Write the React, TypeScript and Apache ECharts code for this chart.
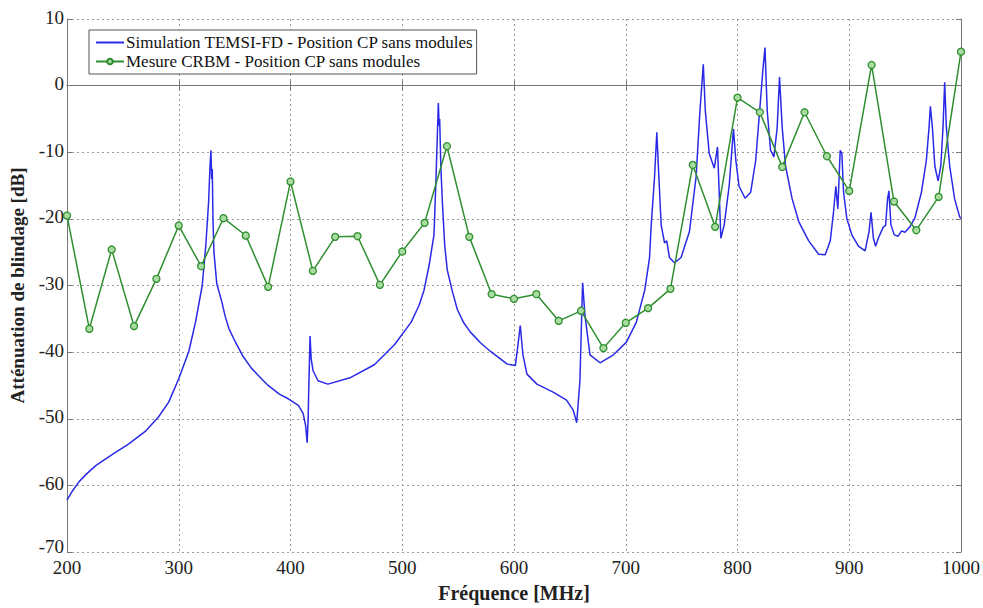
import React, { useEffect, useRef } from "react";
import * as echarts from "echarts";

// Simulation TEMSI-FD (frequency MHz, attenuation dB)
const simFreq = [
  200, 205, 211, 218, 226, 241, 255, 270, 282, 291, 300, 309, 315, 321, 324.3, 326.7, 328, 328.8, 329.5, 330,
  330.6, 331.5, 334, 338.6, 341.5, 345, 350.4, 357, 365, 374, 380, 390, 398, 407, 411.3, 413.5, 414.9, 415.8, 416.3,
  417.5, 418.5, 420.2, 424.6, 433.5, 454, 475, 493, 508, 515, 519.5, 524, 528.4, 530, 531.3, 532.3, 533, 533.5,
  534.5, 535.9, 538, 540.3, 545, 549.3, 555, 561, 570, 579, 594, 601.2, 603.2, 605.6, 608, 611.6, 620.5, 635, 647, 653, 656.1,
  659, 660.5, 661.4, 663.5, 668, 677, 689, 700.6, 709.5, 717, 721.3, 722.8, 725.8, 727.8, 729.6, 731.7, 734.7,
  736.7, 739.1, 743.6, 749.5, 757, 763, 766.4, 769.4, 771.2, 774.7, 779.2, 782.1, 783.6, 785.1, 788.1, 792.5,
  796.4, 798.5, 801.4, 806.8, 811.8, 816.3, 819.8, 822.8, 824.6, 826.6, 829.6, 832.6, 835.5, 837.6, 840, 843,
  848.9, 854.8, 863.7, 872.6, 878.5, 883, 885.9, 888, 889.8, 891.9, 893.4, 894.9, 897.8, 902.3, 908.2, 914.2,
  917.7, 919.5, 921.6, 923.6, 926, 930.5, 932.5, 934.3, 935.5, 937.3, 940.3, 943.8, 946.8, 949.8, 954.2, 958.7,
  964.6, 969, 971.4, 972.6, 974.4, 976.6, 979.5, 981.9, 983.9, 985.4, 986.9, 989.9, 994.3, 998.8, 1000,
];
const simValue = [
  -62.2, -60.8, -59.4, -58.2, -57.0, -55.3, -53.8, -51.9, -49.7, -47.5, -44.0, -39.9, -35.5, -30.0, -23.8, -17.5, -12, -9.7, -14, -12.5,
  -20, -25, -29.7, -32.5, -34.6, -36.5, -38.4, -40.5, -42.4, -44.0, -45.0, -46.3, -47.0, -48.0, -49.2, -51, -53.6, -50, -45.8,
  -37.6, -41, -42.8, -44.3, -44.8, -43.8, -41.9, -38.9, -35.5, -33, -30.7, -27, -22.4, -15, -8, -2.6, -6, -5,
  -12, -17.5, -24, -27.7, -31, -33.6, -35.6, -37, -38.6, -39.9, -41.8, -42.0, -39.4, -36.0, -40.4, -43.3, -44.8, -46.0, -47.2, -48.7, -50.6,
  -44.3, -35, -29.6, -34.5, -40.4, -41.6, -40.4, -38.5, -35.5, -30.7, -25.8, -20.9, -13.6, -7.0, -13.6, -20.9, -23.6,
  -23.3, -25.8, -26.6, -25.8, -21.9, -13.6, -3.8, 3.2, -3.8, -10.2, -12.4, -9.2, -16, -22.9, -20.9, -15.1,
  -6.5, -11.2, -15.1, -16.9, -16.0, -11.2, -3.8, 2.5, 5.7, -3.8, -9.7, -10.7, -6.3, 1.3, -6.3, -12.1,
  -17, -20.4, -23.3, -25.3, -25.4, -23.3, -19, -15.1, -18.5, -9.7, -10.2, -16, -19.9, -22.4, -24.1, -24.8,
  -21.9, -19.0, -22.9, -24.1, -22.9, -21.2, -21.0, -17, -15.8, -20.9, -22.4, -22.6, -21.8, -22, -21.2, -19.9,
  -16, -11.2, -6.3, -3.1, -6.3, -12.1, -14.3, -12.1, -6.3, 0.5, -6.3, -12.1, -17, -19.7, -19.9,
];

// Mesure CRBM
const mesFreq = [
  200, 220, 240, 260, 280, 300, 320, 340, 360, 380, 400, 420, 440, 460, 480, 500, 520, 540, 560, 580, 600,
  620, 640, 660, 680, 700, 720, 740, 760, 780, 800, 820, 840, 860, 880, 900, 920, 940, 960, 980, 1000,
];
const mesValue = [
  -19.5, -36.5, -24.6, -36.1, -29.0, -21.0, -27.1, -19.9, -22.5, -30.2, -14.4, -27.8, -22.7, -22.6, -29.9, -24.9, -20.6, -9.1, -22.7, -31.3, -32.0,
  -31.3, -35.3, -33.8, -39.4, -35.6, -33.4, -30.5, -11.9, -21.2, -1.8, -4.0, -12.2, -4.0, -10.6, -15.8, 3.1, -17.4, -21.7, -16.7, 5.1,
];

const seriesNames = [
  "Simulation TEMSI-FD - Position CP sans modules",
  "Mesure CRBM - Position CP sans modules",
];
const xTitle = "Fréquence [MHz]";
const yTitle = "Atténuation de blindage [dB]";

const FONT = "'Liberation Serif', 'Times New Roman', serif";

export default function App() {
  const ref = useRef<HTMLDivElement>(null);
  useEffect(() => {
    if (!ref.current) return;
    const chart = echarts.init(ref.current, undefined, { renderer: "svg" });
    const simData = simFreq.map((f, i) => [f, simValue[i]]);
    const mesData = mesFreq.map((f, i) => [f, mesValue[i]]);
    const splitLine = { show: true, lineStyle: { color: "#9a9a9a", type: [2, 3] as any, width: 1 } };
    const axisLine = { show: true, lineStyle: { color: "#777", width: 1 } };
    const tickIn = { show: true, inside: true, length: 5, lineStyle: { color: "#777" } };
    chart.setOption({
      animation: false,
      backgroundColor: "#fff",
      grid: { left: 64, top: 19, width: 900, height: 546, show: false },
      legend: {
        orient: "vertical",
        left: 89,
        top: 30,
        itemWidth: 28,
        itemHeight: 7,
        itemGap: 2,
        padding: [4, 3, 4, 6],
        backgroundColor: "#fff",
        borderColor: "#555",
        borderWidth: 1,
        textStyle: { fontFamily: FONT, fontSize: 17, color: "#111", padding: [0, 0, 0, -3] },
        data: [
          { name: seriesNames[0], itemStyle: { opacity: 0 } },
          { name: seriesNames[1] },
        ],
      },
      xAxis: [
        {
          type: "value",
          min: 200,
          max: 1000,
          interval: 100,
          position: "bottom",
          name: xTitle,
          nameLocation: "middle",
          nameGap: 31,
          nameTextStyle: { fontFamily: FONT, fontSize: 20, fontWeight: "bold", color: "#222" },
          axisLine,
          axisTick: tickIn,
          splitLine,
          axisLabel: {
            fontFamily: FONT,
            fontSize: 19,
            lineHeight: 14,
            color: "#222",
            margin: 8,
            formatter: (v: number) => String(v),
          },
        },
        {
          type: "value",
          min: 200,
          max: 1000,
          interval: 100,
          position: "top",
          axisLine,
          axisTick: tickIn,
          splitLine: { show: false },
          axisLabel: { show: false },
        },
      ],
      yAxis: [
        {
          type: "value",
          min: -70,
          max: 10,
          interval: 10,
          position: "left",
          name: yTitle,
          nameLocation: "middle",
          nameGap: 40,
          nameTextStyle: { fontFamily: FONT, fontSize: 19, fontWeight: "bold", color: "#222" },
          axisLine,
          axisTick: tickIn,
          splitLine,
          axisLabel: {
            fontFamily: FONT,
            fontSize: 19,
            lineHeight: 10,
            color: "#222",
            margin: 3,
            padding: [0, 0, 4, 0],
            formatter: (v: number) => (v === -70 ? "{low|" + v + "}" : String(v)),
            rich: {
              low: { fontFamily: FONT, fontSize: 19, lineHeight: 10, color: "#222", padding: [0, 0, 8, 0] },
            },
          },
        },
        {
          type: "value",
          min: -70,
          max: 10,
          interval: 10,
          position: "right",
          axisLine,
          axisTick: tickIn,
          splitLine: { show: false },
          axisLabel: { show: false },
        },
      ],
      series: [
        {
          name: seriesNames[0],
          type: "line",
          data: simData,
          showSymbol: false,
          symbol: "none",
          lineStyle: { color: "#2a2ae6", width: 1.5 },
          itemStyle: { color: "#2a2ae6" },
          z: 3,
        },
        {
          name: seriesNames[1],
          type: "line",
          data: mesData,
          symbol: "circle",
          symbolSize: 7,
          lineStyle: { color: "#2f8f2f", width: 1.5 },
          itemStyle: { color: "#a8dca0", borderColor: "#2f8f2f", borderWidth: 1.3 },
          z: 4,
        },
      ],
    });
    return () => chart.dispose();
  }, []);
  return (
    <div
      ref={ref}
      style={{ position: "fixed", left: 0, top: 0, width: 983, height: 608, background: "#fff" }}
    />
  );
}
